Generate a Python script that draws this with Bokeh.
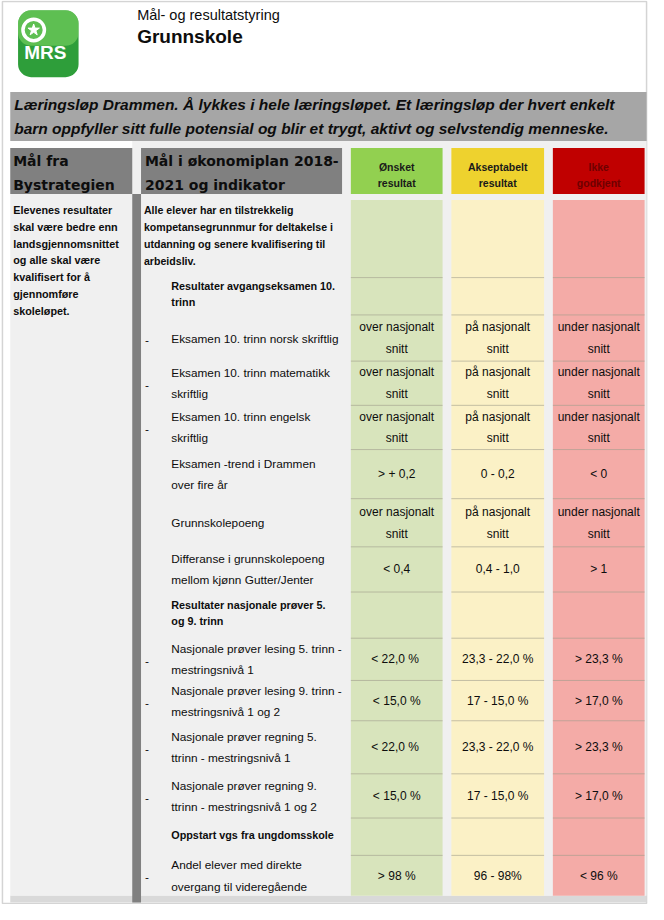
from bokeh.plotting import figure
from bokeh.models import Range1d, ColumnDataSource
from bokeh.core.properties import value
from bokeh.embed import file_html
from bokeh.resources import INLINE

# ---------------- data ----------------
page_title = "Mål- og resultatstyring"
page_subtitle = "Grunnskole"
banner_lines = [
    "Læringsløp Drammen. Å lykkes i hele læringsløpet. Et læringsløp der hvert enkelt",
    "barn oppfyller sitt fulle potensial og blir et trygt, aktivt og selvstendig menneske.",
]
col1_header = ["Mål fra", "Bystrategien"]
col2_header = ["Mål i økonomiplan 2018-", "2021 og indikator"]
level_headers = [["Ønsket", "resultat"], ["Akseptabelt", "resultat"], ["Ikke", "godkjent"]]

col1_text = ["Elevenes resultater", "skal være bedre enn", "landsgjennomsnittet",
             "og alle skal være", "kvalifisert for å", "gjennomføre", "skoleløpet."]
intro_text = ["Alle elever har en tilstrekkelig", "kompetansegrunnmur for deltakelse i",
              "utdanning og senere kvalifisering til", "arbeidsliv."]

# indicator rows (kind: "head" = bold sub-heading, "dash" = item with dash, "plain" = item)
row_kind = ["head", "dash", "dash", "dash", "plain", "plain", "plain",
            "head", "dash", "dash", "dash", "dash", "head", "dash"]
row_label = [
    "Resultater avgangseksamen 10.\ntrinn",
    "Eksamen 10. trinn norsk skriftlig",
    "Eksamen 10. trinn matematikk\nskriftlig",
    "Eksamen 10. trinn engelsk\nskriftlig",
    "Eksamen -trend i Drammen\nover fire år",
    "Grunnskolepoeng",
    "Differanse i grunnskolepoeng\nmellom kjønn Gutter/Jenter",
    "Resultater nasjonale prøver 5.\nog 9. trinn",
    "Nasjonale prøver lesing 5. trinn -\nmestringsnivå 1",
    "Nasjonale prøver lesing 9. trinn -\nmestringsnivå 1 og 2",
    "Nasjonale prøver regning 5.\nttrinn - mestringsnivå 1",
    "Nasjonale prøver regning 9.\nttrinn - mestringsnivå 1 og 2",
    "Oppstart vgs fra ungdomsskole",
    "Andel elever med direkte\novergang til videregående",
]
onsket = ["", "over nasjonalt\nsnitt", "over nasjonalt\nsnitt", "over nasjonalt\nsnitt",
          "> + 0,2", "over nasjonalt\nsnitt", "< 0,4", "",
          "< 22,0  %", "< 15,0 %", "< 22,0  %", "< 15,0 %", "", "> 98 %"]
akseptabelt = ["", "på nasjonalt\nsnitt", "på nasjonalt\nsnitt", "på nasjonalt\nsnitt",
               "0 - 0,2", "på nasjonalt\nsnitt", "0,4 - 1,0", "",
               "23,3 - 22,0 %", "17 - 15,0 %", "23,3 - 22,0 %", "17 - 15,0 %", "", "96 - 98%"]
ikke_godkjent = ["", "under nasjonalt\nsnitt", "under nasjonalt\nsnitt", "under nasjonalt\nsnitt",
                 "< 0", "under nasjonalt\nsnitt", "> 1", "",
                 "> 23,3 %", "> 17,0 %", "> 23,3 %", "> 17,0 %", "", "< 96 %"]

# ---------------- layout (pixel grid of the page) ----------------
row_edges = [282, 320, 367, 412, 457, 507, 556, 602, 649, 692, 733, 787, 832, 870, 911]
table_top = 203
lvl_x = [(359, 453), (462, 557), (566, 660)]
lvl_head = ["#92d050", "#eed22e", "#c00000"]
lvl_body = ["#d8e4bc", "#fbf1c6", "#f4aba7"]
lvl_head_txt = ["#1a1a1a", "#1a1a1a", "#6e0000"]

SANS = value("Liberation Sans")
WIDE = value("DejaVu Sans")

p = figure(width=648, height=904, x_range=Range1d(0, 664), y_range=Range1d(920, 0),
           output_backend="svg", toolbar_location=None, min_border=0,
           background_fill_color="white", border_fill_color="white")
p.axis.visible = False
p.grid.visible = False
p.outline_line_color = None


def txt(x, y, s, size, font=SANS, style="normal", color="#0d0d0d", align="left"):
    p.text(x=[x], y=[y], text=[s], text_font=font, text_font_size=f"{size}px",
           text_font_style=style, text_color=color, text_align=align,
           text_baseline="middle")


def lines(x, yc, s, spacing, **kw):
    parts = s.split("\n")
    n = len(parts)
    for i, part in enumerate(parts):
        txt(x, yc + (i - (n - 1) / 2) * spacing, part, **kw)


# page frame
p.quad(left=[2], right=[662], top=[1], bottom=[919], fill_color=None,
       line_color="#d4d4d4", line_width=1.5)

# logo
p.quad(left=[18], right=[80], top=[10], bottom=[78], fill_color="#2e9e3a",
       line_color=None, border_radius=13)
p.quad(left=[18], right=[80], top=[10], bottom=[46], fill_color="#8ee06a",
       fill_alpha=0.5, line_color=None, border_radius=13)
p.circle(x=[34], y=[30], radius=11, fill_color=None, line_color="white", line_width=3.5)
p.scatter(x=[34], y=[30], size=12, marker="star", fill_color="white", line_color="white")
txt(46, 53, "MRS", 19, style="bold", color="white", align="center")

# titles
txt(140, 15, page_title, 14.5)
txt(140, 37, page_subtitle, 19, style="bold")

# banner
p.quad(left=[10], right=[662], top=[93], bottom=[143], fill_color="#a6a6a6", line_color=None)
txt(14, 106, banner_lines[0], 15.5, style="bold italic")
txt(14, 130, banner_lines[1], 15.5, style="bold italic")

# table background
p.quad(left=[135], right=[662], top=[143], bottom=[150], fill_color="#f0f0f0", line_color=None)
p.quad(left=[10], right=[662], top=[150], bottom=[911], fill_color="#f0f0f0", line_color=None)
p.quad(left=[10], right=[662], top=[911], bottom=[918], fill_color="#d9d9d9", line_color=None)

# headers
p.quad(left=[10, 144], right=[135, 350], top=[150, 150], bottom=[197, 197],
       fill_color="#808080", line_color=None)
p.quad(left=[135], right=[144], top=[197], bottom=[918], fill_color="#808080", line_color=None)
txt(13, 163, col1_header[0], 14, font=WIDE, style="bold")
txt(13, 188, col1_header[1], 14, font=WIDE, style="bold")
txt(148, 163, col2_header[0], 14, font=WIDE, style="bold")
txt(148, 188, col2_header[1], 14, font=WIDE, style="bold")

for k, (x0, x1) in enumerate(lvl_x):
    p.quad(left=[x0], right=[x1], top=[150], bottom=[197], fill_color=lvl_head[k], line_color=None)
    p.quad(left=[x0], right=[x1], top=[table_top], bottom=[row_edges[-1]],
           fill_color=lvl_body[k], line_color=None)
    lines((x0 + x1) / 2, 177.5, "\n".join(level_headers[k]), 17, size=10.5,
          style="bold", color=lvl_head_txt[k], align="center")

# row separator lines in the level columns
for k, (x0, x1) in enumerate(lvl_x):
    n = len(row_edges) - 1
    src = ColumnDataSource(dict(x0=[x0] * n, x1=[x1] * n, y=row_edges[:-1]))
    p.segment(x0="x0", x1="x1", y0="y", y1="y", source=src, line_color="#a09d8c",
              line_alpha=0.6, line_width=1)

# column 1 and intro text
for i, s in enumerate(col1_text):
    txt(13, 213 + i * 17.2, s, 10.8, style="bold")
for i, s in enumerate(intro_text):
    txt(147, 213 + i * 17.3, s, 10.6, style="bold")

# indicator rows
for r in range(len(row_label)):
    y0, y1 = row_edges[r], row_edges[r + 1]
    yc = (y0 + y1) / 2
    if row_kind[r] == "head":
        lines(175, yc - 2, row_label[r], 16.5, size=10.8, style="bold")
    else:
        lines(175, yc + 0.5, row_label[r], 21.5, size=11.8)
        if row_kind[r] == "dash":
            txt(148, yc + 2, "-", 11.8)
    for k, vals in enumerate([onsket, akseptabelt, ikke_godkjent]):
        if vals[r]:
            x0, x1 = lvl_x[k]
            lines((x0 + x1) / 2, yc, vals[r], 22, size=12, align="center")

html = file_html(p, INLINE, title="Grunnskole")
open("out.html", "w").write(html)
